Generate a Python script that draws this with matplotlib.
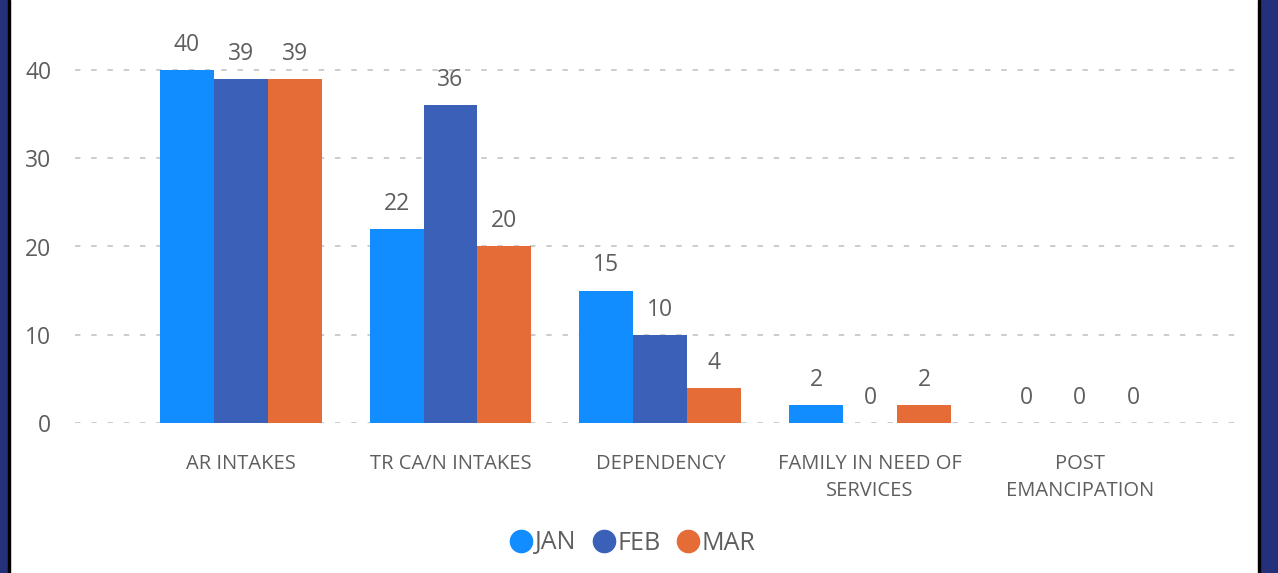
import numpy as np
import matplotlib.pyplot as plt
from matplotlib.patches import Rectangle
from matplotlib.lines import Line2D

categories = ['AR INTAKES', 'TR CA/N INTAKES', 'DEPENDENCY',
              'FAMILY IN NEED OF\nSERVICES', 'POST\nEMANCIPATION']
series_names = ['JAN', 'FEB', 'MAR']
jan = [40, 22, 15, 2, 0]
feb = [39, 36, 10, 0, 0]
mar = [39, 20, 4, 2, 0]
yticks = [0, 10, 20, 30, 40]

colors = ['#118DFF', '#3A60B8', '#E66C37']
text_color = '#605E5C'

plt.rcParams['font.family'] = ['Open Sans', 'DejaVu Sans']

W, H = 1278, 573
fig = plt.figure(figsize=(W / 100, H / 100), dpi=100)

# dark side borders
fig.patches.append(Rectangle((0, 0), 8 / W, 1, transform=fig.transFigure, color='#25307A', zorder=0))
fig.patches.append(Rectangle((8 / W, 0), 2 / W, 1, transform=fig.transFigure, color='black', zorder=0))
fig.patches.append(Rectangle((1260 / W, 0), 18 / W, 1, transform=fig.transFigure, color='#25307A', zorder=0))
fig.patches.append(Rectangle((1258 / W, 0), 2 / W, 1, transform=fig.transFigure, color='black', zorder=0))

# axes: y=0 at pixel 423, y=40 at pixel 70
px_per_unit = (423 - 70) / 40
ymax = 45
top_px = 423 - ymax * px_per_unit
ax = fig.add_axes([75 / W, (H - 423) / H, (1245 - 75) / W, (423 - top_px) / H])

x = np.arange(len(categories))
bw = 0.257
for i, (vals, name) in enumerate(zip([jan, feb, mar], series_names)):
    pos = x + (i - 1) * bw
    ax.bar(pos, vals, width=bw, color=colors[i], zorder=2, label=name)
    for xp, v in zip(pos, vals):
        ax.annotate(str(v), (xp, v), xytext=(0, 9.5), textcoords='offset points',
                    ha='center', va='bottom', fontsize=16.5, color=text_color)

ax.set_xlim(-0.79, 4.787)
ax.set_ylim(0, ymax)
ax.set_yticks(yticks)
ax.yaxis.grid(True, color='#C8C8C8', linestyle=(0, (3, 6)), linewidth=1.3, zorder=0)
ax.set_axisbelow(True)
for s in ax.spines.values():
    s.set_visible(False)
ax.tick_params(axis='y', length=0, pad=17, labelsize=16.5, labelcolor=text_color)
ax.set_xticks(x)
ax.set_xticklabels(categories, fontsize=14.5, color=text_color, linespacing=1.5)
ax.tick_params(axis='x', length=0, pad=22)
for lbl in ax.get_xticklabels():
    lbl.set_verticalalignment('top')

handles = [Line2D([], [], marker='o', linestyle='none', markersize=16,
                  markerfacecolor=c, markeredgecolor=c) for c in colors]
fig.legend(handles, series_names, loc='center', bbox_to_anchor=(632 / W, (H - 543) / H),
           ncol=3, frameon=False, fontsize=18, handletextpad=0.05, columnspacing=0.6,
           labelcolor=text_color, handlelength=1.0)

fig.savefig('out.png', dpi=100, facecolor='white')
